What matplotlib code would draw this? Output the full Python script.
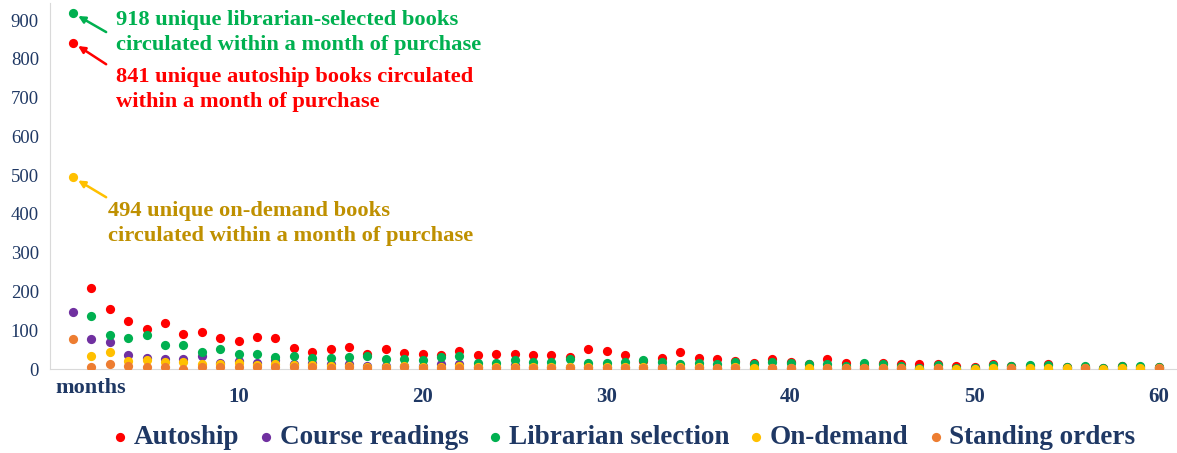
import numpy as np
import matplotlib.pyplot as plt

nan = np.nan

months = list(range(1, 61))

autoship = [841, 210, 154, 124, 102, 118, 91, 95, 79, 73,
            82, 81, 55, 45, 51, 58, 40, 51, 41, 38,
            36, 46, 36, 39, 40, 36, 36, 32, 51, 47,
            36, 20, 29, 43, 29, 25, 21, 15, 25, 18,
            14, 27, 15, 8, 15, 12, 14, 12, 8, 6,
            12, 7, 7, 13, 4, 5, 3, 9, 6, 5]

course_readings = [146, 77, 70, 36, 28, 25, 25, 34, 15, 21,
                   16, 23, 12, 15, 13, 12, 8, 8, 9, 7,
                   12, 13, 6, 5, 10, 5, 5, 5, 4, 4,
                   5, 6, 4, 3, 4, 3, 4, 3, 3, 3,
                   3, 3, 2, 3, 2, 3, 2, 2, 1, 2,
                   2, 2, 2, 1, 2, 2, 1, 2, 1, 2]

librarian = [918, 137, 87, 79, 89, 62, 61, 44, 51, 40,
             40, 32, 34, 29, 29, 32, 34, 27, 25, 23,
             32, 34, 15, 15, 23, 18, 19, 27, 16, 16,
             19, 23, 18, 12, 15, 12, 18, 13, 18, 15,
             12, 12, 9, 15, 13, 8, 2, 10, 2, 3,
             10, 8, 10, 11, 6, 7, 2, 8, 7, 6]

on_demand = [494, 33, 43, 20, 23, 19, 18, 14, 12, 16,
             10, 12, 10, 10, 8, 8, 6, 6, 7, 5,
             6, 8, 5, 4, 5, 4, 4, 5, 4, 4,
             4, 5, 3, 4, 6, 3, 4, 2, 3, 3,
             2, 3, 3, 3, 3, 3, 1, 3, 1, 1,
             2, 3, 2, 2, 2, 3, 1, 2, 2, 3]

standing_orders = [78, 6, 14, 7, 4, 6, 1, 4, 4, 4,
                   6, 6, 4, 6, 3, 5, 3, 3, 4, 3,
                   3, 3, 3, 3, 3, 3, 3, 3, 3, 3,
                   3, 3, 3, 3, 3, 3, 3, nan, 3, 3,
                   nan, 3, 3, 3, 3, 3, nan, 3, nan, nan,
                   nan, 3, nan, nan, nan, 3, nan, nan, nan, 3]

series = [
    ("Autoship", autoship, "#FF0000"),
    ("Course readings", course_readings, "#7030A0"),
    ("Librarian selection", librarian, "#00B050"),
    ("On-demand", on_demand, "#FFC000"),
    ("Standing orders", standing_orders, "#ED7D31"),
]

navy = "#1F3864"
plt.rcParams['font.family'] = ['Liberation Serif', 'DejaVu Serif']

fig = plt.figure(figsize=(11.77, 4.53), dpi=100)
ax = fig.add_axes([0.0425, 0.1854, 0.9575, 0.808])

for name, vals, col in series:
    ax.scatter(months, vals, s=44, color=col, label=name, zorder=3, linewidths=0)

ax.set_xlim(-0.25, 61)
ax.set_ylim(0, 944)
ax.set_yticks(range(0, 1000, 100))
ax.set_xticks(range(10, 61, 10))

for s in ['top', 'right']:
    ax.spines[s].set_visible(False)
ax.spines['left'].set_color('#D9D9D9')
ax.spines['bottom'].set_color('#D9D9D9')
ax.spines['bottom'].set_zorder(1)

ax.tick_params(axis='y', length=0, pad=8, labelsize=13.5, labelcolor=navy)
ax.tick_params(axis='x', length=0, pad=13, labelsize=15, labelcolor=navy)
for lbl in ax.get_xticklabels():
    lbl.set_fontweight('bold')

fig.text(91 / 1177, 1 - 388 / 453, "months", ha='center', va='center',
         fontsize=16, fontweight='bold', color=navy)

# callouts for month 1
notes = [
    (918, 869, "#00B050", "#00B050", 3.34, 868,
     "918 unique librarian-selected books\ncirculated within a month of purchase"),
    (841, 786, "#FF0000", "#FF0000", 3.34, 722,
     "841 unique autoship books circulated\nwithin a month of purchase"),
    (494, 443, "#FFC000", "#BF9000", 2.9, 376,
     "494 unique on-demand books\ncirculated within a month of purchase"),
]
for yv, ytail, acol, tcol, tx, ty, txt in notes:
    ax.annotate("", xy=(1.15, yv - 4), xytext=(2.8, ytail),
                arrowprops=dict(arrowstyle="-|>", color=acol, lw=1.8,
                                mutation_scale=10, shrinkA=0, shrinkB=2))
    ax.text(tx, ty, txt, color=tcol, fontsize=16.2, fontweight='bold',
            va='center', ha='left', linespacing=1.33)

leg = fig.legend(loc='center', bbox_to_anchor=(0.528, 0.035), ncol=5,
                 frameon=False, fontsize=19.5, handletextpad=0.05,
                 handlelength=0.9, columnspacing=0.55, markerscale=1.0,
                 borderaxespad=0)
for t in leg.get_texts():
    t.set_color(navy)
    t.set_fontweight('bold')

fig.savefig("out.png", dpi=100)
